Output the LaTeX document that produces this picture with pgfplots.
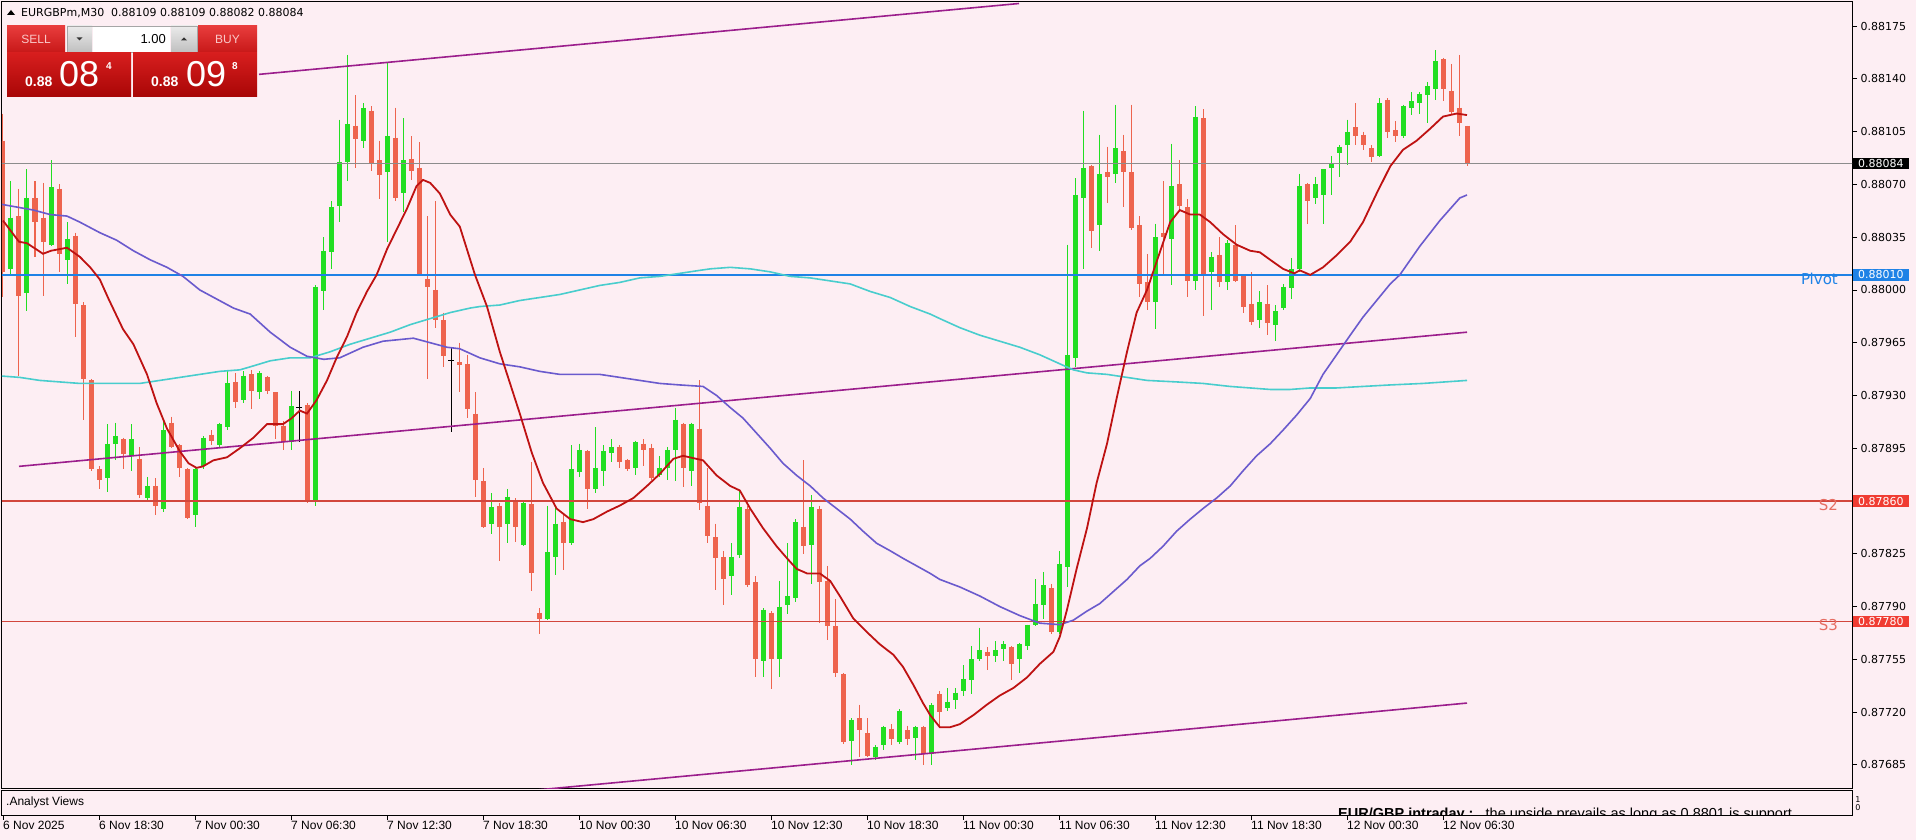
\documentclass[border=0pt]{standalone}
\usepackage{pgfplots}
\pgfplotsset{compat=1.18}
\usepackage{pgfplotstable}
\usepackage{fontspec}
\setmainfont{Liberation Sans}
\newfontfamily\dejavu{DejaVu Sans}

\definecolor{bgpink}{RGB}{253,238,243}
\definecolor{bull}{RGB}{34,222,34}
\definecolor{bear}{RGB}{238,100,78}
\definecolor{maRed}{RGB}{190,18,18}
\definecolor{maBlue}{RGB}{106,90,205}
\definecolor{maTurq}{RGB}{72,205,205}
\definecolor{chan}{RGB}{155,30,140}
\definecolor{pivot}{RGB}{30,130,230}
\definecolor{sline}{RGB}{210,70,60}
\definecolor{stext}{RGB}{230,110,100}
\definecolor{sbox}{RGB}{240,60,50}

% bullish candles: index, open, high, low, close
\pgfplotstableread{
x o h l c
-11 0.88014 0.88072 0.88010 0.88048
-9 0.87998 0.88080 0.87986 0.88061
-6 0.88030 0.88086 0.88029 0.88068
-4 0.88020 0.88045 0.88004 0.88034
1 0.87875 0.87911 0.87866 0.87898
2 0.87898 0.87912 0.87887 0.87903
4 0.87890 0.87911 0.87880 0.87901
6 0.87862 0.87876 0.87860 0.87870
8 0.87855 0.87914 0.87853 0.87907
12 0.87851 0.87882 0.87843 0.87881
13 0.87883 0.87903 0.87881 0.87902
15 0.87897 0.87912 0.87895 0.87911
16 0.87909 0.87947 0.87907 0.87938
18 0.87927 0.87946 0.87925 0.87943
20 0.87932 0.87946 0.87928 0.87945
24 0.87899 0.87933 0.87894 0.87923
27 0.87860 0.88003 0.87857 0.88002
28 0.87999 0.88035 0.87987 0.88026
29 0.88025 0.88059 0.88014 0.88055
30 0.88056 0.88113 0.88045 0.88085
31 0.88085 0.88156 0.88072 0.88110
33 0.88099 0.88124 0.88094 0.88121
36 0.88078 0.88151 0.88032 0.88102
38 0.88064 0.88114 0.88052 0.88086
49 0.87845 0.87865 0.87838 0.87856
51 0.87845 0.87868 0.87832 0.87863
53 0.87831 0.87860 0.87830 0.87859
56 0.87782 0.87857 0.87781 0.87826
57 0.87823 0.87856 0.87811 0.87845
59 0.87832 0.87897 0.87831 0.87881
60 0.87879 0.87898 0.87876 0.87894
62 0.87868 0.87909 0.87865 0.87882
63 0.87880 0.87897 0.87870 0.87893
64 0.87892 0.87901 0.87886 0.87896
67 0.87882 0.87900 0.87877 0.87899
70 0.87877 0.87890 0.87876 0.87882
71 0.87882 0.87896 0.87874 0.87894
72 0.87894 0.87922 0.87873 0.87914
74 0.87880 0.87912 0.87870 0.87911
79 0.87810 0.87832 0.87798 0.87823
80 0.87824 0.87867 0.87822 0.87856
83 0.87754 0.87789 0.87743 0.87788
85 0.87755 0.87807 0.87743 0.87790
86 0.87791 0.87832 0.87785 0.87797
87 0.87796 0.87848 0.87793 0.87846
89 0.87831 0.87864 0.87805 0.87856
94 0.87701 0.87716 0.87685 0.87715
97 0.87690 0.87698 0.87688 0.87697
98 0.87698 0.87711 0.87695 0.87710
100 0.87700 0.87722 0.87699 0.87721
102 0.87703 0.87711 0.87688 0.87710
104 0.87692 0.87726 0.87685 0.87725
106 0.87723 0.87736 0.87721 0.87727
107 0.87728 0.87736 0.87722 0.87733
108 0.87734 0.87751 0.87731 0.87742
109 0.87741 0.87764 0.87732 0.87755
110 0.87755 0.87776 0.87754 0.87761
112 0.87757 0.87767 0.87753 0.87761
113 0.87762 0.87767 0.87754 0.87765
115 0.87755 0.87766 0.87746 0.87765
116 0.87764 0.87778 0.87761 0.87778
117 0.87778 0.87808 0.87777 0.87792
118 0.87791 0.87813 0.87782 0.87804
120 0.87773 0.87827 0.87772 0.87818
121 0.87816 0.88030 0.87803 0.87957
122 0.87955 0.88074 0.87949 0.88063
123 0.88061 0.88119 0.88014 0.88081
125 0.88043 0.88103 0.88026 0.88077
127 0.88077 0.88123 0.88071 0.88094
132 0.87992 0.88044 0.87974 0.88035
134 0.88034 0.88097 0.88003 0.88069
137 0.88006 0.88122 0.88000 0.88115
139 0.88012 0.88025 0.87987 0.88022
141 0.88005 0.88033 0.88000 0.88031
145 0.87980 0.87999 0.87975 0.87992
147 0.87977 0.87990 0.87966 0.87986
148 0.87988 0.88004 0.87987 0.88002
149 0.88001 0.88021 0.87994 0.88014
150 0.88014 0.88077 0.88012 0.88069
152 0.88061 0.88075 0.88057 0.88070
153 0.88063 0.88080 0.88044 0.88080
154 0.88081 0.88089 0.88063 0.88084
155 0.88091 0.88096 0.88075 0.88095
156 0.88096 0.88113 0.88083 0.88105
160 0.88089 0.88127 0.88088 0.88124
163 0.88102 0.88123 0.88101 0.88122
164 0.88121 0.88131 0.88116 0.88125
165 0.88124 0.88131 0.88117 0.88130
166 0.88129 0.88138 0.88111 0.88135
167 0.88133 0.88159 0.88126 0.88152
}\bulltab

% bearish candles
\pgfplotstableread{
x o h l c
-12 0.88099 0.88117 0.87995 0.88012
-10 0.88049 0.88067 0.87943 0.87996
-8 0.88061 0.88072 0.88022 0.88045
-7 0.88048 0.88071 0.87996 0.88032
-5 0.88067 0.88070 0.88012 0.88024
-3 0.88036 0.88038 0.87969 0.87991
-2 0.87990 0.87992 0.87914 0.87941
-1 0.87940 0.87941 0.87880 0.87881
0 0.87881 0.87883 0.87868 0.87874
3 0.87901 0.87902 0.87881 0.87891
5 0.87888 0.87896 0.87862 0.87864
7 0.87870 0.87875 0.87851 0.87857
9 0.87912 0.87916 0.87895 0.87896
10 0.87897 0.87898 0.87876 0.87882
11 0.87881 0.87882 0.87848 0.87849
14 0.87904 0.87907 0.87897 0.87900
17 0.87939 0.87945 0.87922 0.87926
19 0.87944 0.87947 0.87921 0.87933
21 0.87942 0.87943 0.87931 0.87933
22 0.87932 0.87932 0.87901 0.87910
23 0.87910 0.87913 0.87894 0.87899
26 0.87924 0.87925 0.87859 0.87860
32 0.88109 0.88129 0.88081 0.88100
34 0.88119 0.88122 0.88079 0.88084
35 0.88086 0.88099 0.88060 0.88076
37 0.88101 0.88121 0.88059 0.88061
39 0.88087 0.88102 0.88073 0.88079
40 0.88081 0.88098 0.88009 0.88010
41 0.88007 0.88049 0.87941 0.88002
42 0.88000 0.88059 0.87975 0.87980
43 0.87980 0.87985 0.87949 0.87956
45 0.87952 0.87965 0.87932 0.87950
46 0.87951 0.87957 0.87915 0.87921
47 0.87918 0.87932 0.87863 0.87874
48 0.87873 0.87882 0.87842 0.87843
50 0.87857 0.87859 0.87820 0.87843
52 0.87861 0.87862 0.87833 0.87843
54 0.87858 0.87886 0.87800 0.87812
55 0.87786 0.87789 0.87772 0.87782
58 0.87846 0.87852 0.87814 0.87832
61 0.87893 0.87894 0.87855 0.87868
65 0.87896 0.87897 0.87882 0.87886
66 0.87887 0.87888 0.87880 0.87881
68 0.87898 0.87901 0.87883 0.87894
69 0.87895 0.87898 0.87874 0.87875
73 0.87911 0.87912 0.87869 0.87882
75 0.87908 0.87940 0.87854 0.87859
76 0.87857 0.87882 0.87832 0.87837
77 0.87836 0.87845 0.87801 0.87822
78 0.87823 0.87827 0.87791 0.87808
81 0.87855 0.87857 0.87803 0.87804
82 0.87806 0.87810 0.87743 0.87755
84 0.87786 0.87787 0.87735 0.87755
88 0.87843 0.87887 0.87825 0.87830
90 0.87855 0.87857 0.87779 0.87806
91 0.87807 0.87817 0.87768 0.87777
92 0.87777 0.87795 0.87743 0.87746
93 0.87745 0.87746 0.87699 0.87700
95 0.87716 0.87725 0.87690 0.87708
96 0.87706 0.87716 0.87690 0.87691
99 0.87709 0.87712 0.87698 0.87702
101 0.87708 0.87711 0.87698 0.87702
103 0.87710 0.87711 0.87685 0.87692
105 0.87732 0.87734 0.87711 0.87720
111 0.87760 0.87763 0.87748 0.87757
114 0.87763 0.87764 0.87741 0.87752
119 0.87802 0.87805 0.87772 0.87773
124 0.88082 0.88083 0.88028 0.88039
126 0.88078 0.88095 0.88058 0.88075
128 0.88092 0.88103 0.88055 0.88078
129 0.88078 0.88123 0.88040 0.88041
130 0.88043 0.88049 0.87995 0.88004
131 0.88005 0.88024 0.87987 0.87992
133 0.88038 0.88072 0.88010 0.88035
135 0.88070 0.88086 0.88053 0.88056
136 0.88055 0.88060 0.87995 0.88006
138 0.88114 0.88120 0.87983 0.88010
140 0.88023 0.88035 0.88002 0.88005
142 0.88030 0.88043 0.88005 0.88006
143 0.88009 0.88010 0.87985 0.87989
144 0.87991 0.88012 0.87977 0.87979
146 0.87991 0.88003 0.87970 0.87978
151 0.88070 0.88071 0.88044 0.88059
157 0.88108 0.88124 0.88096 0.88102
158 0.88103 0.88105 0.88093 0.88096
159 0.88094 0.88096 0.88085 0.88088
161 0.88126 0.88127 0.88101 0.88105
162 0.88106 0.88112 0.88098 0.88102
168 0.88153 0.88154 0.88125 0.88133
169 0.88132 0.88150 0.88117 0.88118
170 0.88121 0.88156 0.88102 0.88111
171 0.88109 0.88109 0.88082 0.88084
}\beartab

% doji candles
\pgfplotstableread{
x o h l c
25 0.87922 0.87933 0.87899 0.87922
44 0.87953 0.87962 0.87906 0.87953
}\dojitab

\pgfplotsset{
  candle/.style={only marks, mark=*, mark size=0pt,
    mark options={draw=none, fill=none, draw opacity=0, fill opacity=0},
    error bars/.cd, y dir=minus, y explicit, error mark=none,
    error bar style={#1}},
}

\begin{document}
\begin{tikzpicture}[x=1pt,y=1pt]
\fill[bgpink] (0,0) rectangle (1916,840);
\path[use as bounding box] (0,0) rectangle (1916,840);

\begin{axis}[
  name=main, scale only axis, width=1850pt, height=787pt,
  at={(2pt,51pt)}, anchor=south west,
  xmin=-12.125, xmax=219.125, ymin=0.87669, ymax=0.88191,
  xtick=\empty,
  ytick={0.87685,0.87720,0.87755,0.87790,0.87825,0.87895,0.87930,0.87965,0.88000,0.88035,0.88070,0.88105,0.88140,0.88175},
  ytick pos=right, yticklabel pos=right, tick align=outside, major tick length=5pt,
  scaled y ticks=false,
  y tick label style={/pgf/number format/.cd, fixed, fixed zerofill, precision=5, assume math mode=true, /tikz/.cd,
    font=\dejavu\fontsize{11}{13}\selectfont, anchor=west},
  axis line style={black, line width=1pt}, tick style={black, line width=0.8pt},
]
% wicks
\addplot[candle={bull, line width=1pt}]
  table[x=x, y=h, y error minus expr=\thisrow{h}-\thisrow{l}] {\bulltab};
\addplot[candle={bear, line width=1pt}]
  table[x=x, y=h, y error minus expr=\thisrow{h}-\thisrow{l}] {\beartab};
% bodies
\addplot[candle={bull, line width=5pt}]
  table[x=x, y=c, y error minus expr=\thisrow{c}-\thisrow{o}] {\bulltab};
\addplot[candle={bear, line width=5pt}]
  table[x=x, y=o, y error minus expr=\thisrow{o}-\thisrow{c}] {\beartab};
% doji
\addplot[candle={black, line width=1pt}]
  table[x=x, y=h, y error minus expr=\thisrow{h}-\thisrow{l}] {\dojitab};
\addplot[only marks, black, mark=-, mark size=3pt, mark options={line width=1pt}]
  table[x=x, y=o] {\dojitab};

% levels
\addplot[black!45, line width=0.7pt] coordinates {(-13,0.88084) (220,0.88084)};
\addplot[pivot, line width=1.5pt] coordinates {(-13,0.88010) (220,0.88010)};
\addplot[sline, line width=1.5pt] coordinates {(-13,0.87860) (220,0.87860)};
\addplot[sline, line width=1.5pt] coordinates {(-13,0.87780) (220,0.87780)};

% channel
\addplot[chan, line width=1.6pt] coordinates {(20,0.88143) (115,0.88190)};
\addplot[chan, line width=1.6pt] coordinates {(-10,0.87883) (171,0.87972)};
\addplot[chan, line width=1.6pt] coordinates {(50,0.87666) (171,0.87726)};

% moving averages
\addplot[maTurq, line width=1.6pt] coordinates {
(-12.4,0.87943) (-9.9,0.87942) (-7.4,0.87940) (-4.9,0.87939) (-2.4,0.87938) (2.6,0.87938)
(5.1,0.87938) (7.6,0.87940) (10.1,0.87942) (12.6,0.87944) (15.1,0.87946) (17.6,0.87947)
(18.9,0.87949) (21.4,0.87953) (23.9,0.87955) (26.4,0.87955) (28.9,0.87959) (31.4,0.87964)
(33.9,0.87968) (36.4,0.87972) (38.9,0.87977) (41.4,0.87981) (43.9,0.87985) (46.4,0.87988)
(47.6,0.87989) (50.1,0.87990) (52.6,0.87993) (55.1,0.87995) (57.6,0.87997) (60.1,0.88000)
(62.6,0.88003) (65.1,0.88005) (67.6,0.88008) (70.1,0.88009) (72.6,0.88011) (75.1,0.88013)
(76.4,0.88014) (78.9,0.88015) (81.4,0.88014) (83.9,0.88012) (86.4,0.88009) (88.9,0.88008)
(91.4,0.88006) (93.9,0.88004) (96.4,0.87999) (98.9,0.87995) (101.4,0.87989) (103.9,0.87984)
(105.1,0.87981) (107.6,0.87975) (110.1,0.87970) (112.6,0.87966) (115.1,0.87962) (117.6,0.87957)
(120.1,0.87951) (121.8,0.87947) (123.5,0.87945) (126,0.87944) (128.5,0.87942) (131,0.87940)
(134.7,0.87939) (138,0.87938) (141.4,0.87936) (143.9,0.87935) (146.4,0.87934) (148.9,0.87934)
(151.4,0.87935) (154.7,0.87935) (158,0.87936) (161.4,0.87937) (165.5,0.87938) (171,0.87940)
};
\addplot[maBlue, line width=1.6pt] coordinates {
(-12.4,0.88057) (-10.3,0.88055) (-8.2,0.88053) (-6.1,0.88050) (-4,0.88049) (-2.4,0.88045)
(0.1,0.88038) (2.2,0.88033) (4.3,0.88026) (6.4,0.88020) (8.5,0.88015) (10.5,0.88009)
(12.6,0.88000) (14.7,0.87994) (16.8,0.87988) (18.9,0.87984) (21.4,0.87972) (23.9,0.87962)
(26,0.87956) (28.1,0.87954) (30.1,0.87955) (33,0.87962) (35.5,0.87966) (39.3,0.87968)
(41.4,0.87965) (43.5,0.87962) (45.1,0.87961) (47.6,0.87955) (50.1,0.87951) (52.6,0.87949)
(55.1,0.87946) (57.6,0.87944) (60.1,0.87944) (62.6,0.87944) (65.1,0.87942) (67.6,0.87940)
(70.1,0.87938) (72.6,0.87937) (75.5,0.87936) (77.2,0.87930) (78.9,0.87922) (80.5,0.87915)
(82.2,0.87905) (83.9,0.87895) (85.5,0.87885) (87.2,0.87877) (88.9,0.87870) (90.5,0.87862)
(92.2,0.87855) (93.9,0.87848) (95.5,0.87840) (97.2,0.87832) (98.9,0.87827) (100.5,0.87822)
(102.2,0.87817) (103.9,0.87812) (105.1,0.87808) (107.6,0.87803) (110.1,0.87797) (112.6,0.87790)
(115.1,0.87784) (117.6,0.87779) (120.1,0.87778) (121.8,0.87781) (123.5,0.87787) (125.1,0.87792)
(126.8,0.87800) (128.5,0.87808) (130.1,0.87817) (131.4,0.87822) (133,0.87830) (134.7,0.87840)
(136.4,0.87848) (138,0.87855) (139.7,0.87862) (141.4,0.87870) (143,0.87880) (144.7,0.87890)
(146.4,0.87898) (148,0.87907) (149.7,0.87917) (151.4,0.87928) (153,0.87944) (154.7,0.87957)
(156.4,0.87970) (158,0.87982) (159.7,0.87993) (161.4,0.88004) (162.6,0.88010) (165.1,0.88029)
(167.6,0.88046) (170.1,0.88061) (171,0.88063)
};
\addplot[maRed, line width=1.8pt] coordinates {
(-12,0.88046) (-10,0.88032) (-9,0.88031) (-7,0.88024) (-6,0.88026) (-4,0.88028) (-2.4,0.88022)
(-1.1,0.88015) (0.1,0.88007) (1.2,0.87994) (3,0.87974) (4.3,0.87964) (6,0.87944) (7.2,0.87925)
(8.5,0.87908) (10.1,0.87893) (11.2,0.87885) (12.2,0.87882) (13,0.87883) (14.3,0.87887)
(16,0.87889) (17.6,0.87895) (19.3,0.87902) (21,0.87911) (23,0.87911) (24.1,0.87915)
(25.1,0.87920) (26,0.87918) (27.2,0.87927) (28.5,0.87940) (29.7,0.87955) (31,0.87969)
(32.2,0.87985) (33.5,0.87999) (34.7,0.88010) (36,0.88027) (37.2,0.88040) (38.5,0.88054)
(39.7,0.88069) (40.5,0.88073) (41.4,0.88071) (42.6,0.88064) (43.9,0.88050) (45.1,0.88042)
(47,0.88010) (48.5,0.87989) (50.1,0.87959) (52.6,0.87918) (54.1,0.87892) (55.5,0.87872)
(57.2,0.87855) (58.9,0.87848) (60.5,0.87846) (61.8,0.87848) (63.5,0.87853) (65.1,0.87857)
(66.8,0.87862) (68.5,0.87870) (70.1,0.87878) (71.8,0.87888) (73,0.87890) (75.5,0.87887)
(77.2,0.87877) (78.9,0.87870) (80.1,0.87867) (81.4,0.87855) (83,0.87842) (84.7,0.87830)
(86,0.87822) (87.2,0.87815) (88.5,0.87812) (90.1,0.87812) (91.4,0.87807) (92.6,0.87797)
(94.3,0.87782) (96,0.87773) (97.6,0.87765) (99.3,0.87758) (100.5,0.87750) (101.8,0.87738)
(103,0.87726) (103.9,0.87718) (105.1,0.87710) (106.4,0.87710) (107.6,0.87712) (109.3,0.87718)
(111,0.87725) (112.6,0.87731) (114.3,0.87736) (116,0.87743) (117.6,0.87752) (119.3,0.87760)
(120.1,0.87770) (121,0.87788) (122.2,0.87815) (123.5,0.87842) (124.7,0.87872) (126,0.87898)
(127.2,0.87928) (128.5,0.87959) (129.7,0.87985) (131,0.88000) (132.6,0.88025) (133.9,0.88045)
(135.1,0.88053) (136.4,0.88050) (137.6,0.88050) (138.9,0.88045) (140.5,0.88037) (142.2,0.88030)
(143.9,0.88026) (145.1,0.88025) (146.4,0.88020) (148,0.88014) (149.4,0.88011) (150.1,0.88013)
(151.4,0.88010) (153,0.88015) (154.7,0.88023) (156.4,0.88032) (158,0.88045) (159.7,0.88064)
(161.4,0.88082) (163,0.88093) (164.7,0.88099) (166.4,0.88107) (168,0.88115) (169.7,0.88117)
(171,0.88116)
};

\node[anchor=north east, text=pivot, font=\dejavu\fontsize{15}{15}\selectfont, inner sep=1pt] at (axis cs:217.5,0.88012) {Pivot};
\node[anchor=north east, text=stext, font=\dejavu\fontsize{15}{15}\selectfont, inner sep=1pt] at (axis cs:217.5,0.87862) {S2};
\node[anchor=north east, text=stext, font=\dejavu\fontsize{15}{15}\selectfont, inner sep=1pt] at (axis cs:217.5,0.87782) {S3};

\coordinate (bidR) at (axis cs:219.125,0.88084);
\coordinate (pvR) at (axis cs:219.125,0.88010);
\coordinate (s2R) at (axis cs:219.125,0.87860);
\coordinate (s3R) at (axis cs:219.125,0.87780);
\end{axis}

% indicator sub-window with the time scale
\begin{axis}[
  name=sub, scale only axis, width=1850pt, height=25pt,
  at={(2pt,24pt)}, anchor=south west,
  xmin=-12.125, xmax=219.125, ymin=0, ymax=1, ytick=\empty,
  xtick={-12,0,12,24,36,48,60,72,84,96,108,120,132,144,156,168},
  xticklabels={6 Nov 2025,6 Nov 18:30,7 Nov 00:30,7 Nov 06:30,7 Nov 12:30,7 Nov 18:30,10 Nov 00:30,10 Nov 06:30,10 Nov 12:30,10 Nov 18:30,11 Nov 00:30,11 Nov 06:30,11 Nov 12:30,11 Nov 18:30,12 Nov 00:30,12 Nov 06:30},
  xtick pos=bottom, tick align=outside, major tick length=4pt,
  xticklabel style={anchor=north west, inner xsep=0pt, inner ysep=1pt, font=\fontsize{12}{12}\selectfont},
  axis line style={black, line width=1pt}, tick style={black, line width=0.8pt},
]
\end{axis}

\node[anchor=west, font=\fontsize{12}{12}\selectfont, inner sep=0pt] at (6,38) {.Analyst Views};
\begin{scope}
\clip (2,24.5) rectangle (1852,49);
\node[anchor=base west, font=\fontsize{14.5}{14.5}\selectfont, inner sep=0pt] at (1338,21)
  {\textbf{EUR/GBP intraday :}\ \ \ the upside prevails as long as 0.8801 is support};
\end{scope}
\node[font=\dejavu\fontsize{8}{8}\selectfont, inner sep=0pt] at (1858,40) {1};
\node[font=\dejavu\fontsize{8}{8}\selectfont, inner sep=0pt] at (1858,32) {0};

% price boxes on the scale
\tikzset{pbox/.style={anchor=west, text=white, inner xsep=5pt, inner ysep=1.5pt, font=\dejavu\fontsize{11}{11}\selectfont}}
\node[pbox, fill=black] at ([xshift=1pt]bidR) {0.88084};
\node[pbox, fill=pivot] at ([xshift=1pt]pvR) {0.88010};
\node[pbox, fill=sbox] at ([xshift=1pt]s2R) {0.87860};
\node[pbox, fill=sbox] at ([xshift=1pt]s3R) {0.87780};

% header line
\fill[black] (7,825) -- (15,825) -- (11,830) -- cycle;
\node[anchor=base west, inner sep=0pt, font=\dejavu\fontsize{11}{11}\selectfont] at (21,823)
  {EURGBPm,M30\ \ 0.88109 0.88109 0.88082 0.88084};

% one-click trading panel
\shade[top color={rgb,255:red,232;green,60;blue,60}, bottom color={rgb,255:red,200;green,25;blue,25}] (7,814) rectangle (65,788);
\shade[top color={rgb,255:red,232;green,60;blue,60}, bottom color={rgb,255:red,200;green,25;blue,25}] (198,814) rectangle (257,788);
\shade[top color=black!8, bottom color=black!25] (67,814) rectangle (92,788);
\shade[top color=black!8, bottom color=black!25] (171,814) rectangle (197,788);
\fill[white] (93,814) rectangle (170,788);
\draw[black!35, line width=0.6pt] (67,814) rectangle (197,788);
\fill[black!80] (76.5,802.5) -- (82.5,802.5) -- (79.5,799.5) -- cycle;
\fill[black!80] (181,799.5) -- (187,799.5) -- (184,802.5) -- cycle;
\node[text={rgb,255:red,250;green,200;blue,200}, font=\fontsize{12}{12}\selectfont] at (36,801) {SELL};
\node[text={rgb,255:red,250;green,200;blue,200}, font=\fontsize{12}{12}\selectfont] at (227.5,801) {BUY};
\node[anchor=east, font=\fontsize{13}{13}\selectfont, inner sep=0pt] at (166,801) {1.00};
\shade[top color={rgb,255:red,215;green,30;blue,30}, bottom color={rgb,255:red,168;green,6;blue,6}] (7,787) rectangle (131,743);
\shade[top color={rgb,255:red,215;green,30;blue,30}, bottom color={rgb,255:red,168;green,6;blue,6}] (133,787) rectangle (257,743);
\node[anchor=base west, text=white, inner sep=0pt, font=\bfseries\fontsize{14}{14}\selectfont] at (25,753) {0.88};
\node[anchor=base west, text=white, inner sep=0pt, font=\fontsize{36}{36}\selectfont] at (59,753) {08};
\node[anchor=base west, text=white, inner sep=0pt, font=\bfseries\fontsize{10}{10}\selectfont] at (106,770) {4};
\node[anchor=base west, text=white, inner sep=0pt, font=\bfseries\fontsize{14}{14}\selectfont] at (151,753) {0.88};
\node[anchor=base west, text=white, inner sep=0pt, font=\fontsize{36}{36}\selectfont] at (186,753) {09};
\node[anchor=base west, text=white, inner sep=0pt, font=\bfseries\fontsize{10}{10}\selectfont] at (232,770) {8};
\end{tikzpicture}
\end{document}
